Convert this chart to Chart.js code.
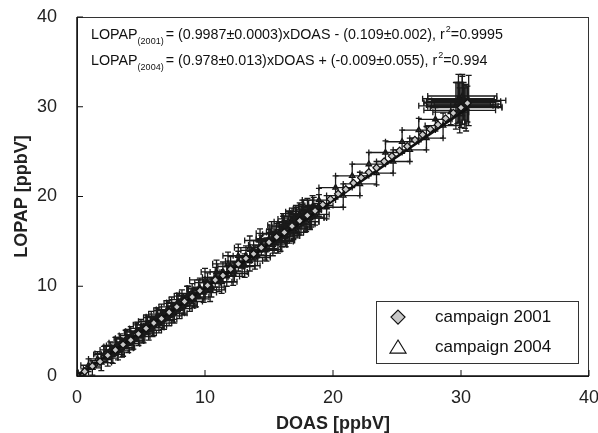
<!DOCTYPE html>
<html>
<head>
<meta charset="utf-8">
<script src="https://cdn.jsdelivr.net/npm/chart.js@4"></script>
<style>
  html, body { margin: 0; padding: 0; background: #fff; }
  #wrap { width: 598px; height: 433px; }
</style>
</head>
<body>
<div id="wrap"><canvas id="chart"></canvas></div>
<script>
// campaign 2001 (grey diamonds, very tight along the 1:1 line)
const doas2001 = [0, 0.6, 1.2, 1.8, 2.4, 3.0, 3.6, 4.2, 4.8, 5.4, 6.0, 6.6, 7.2, 7.8, 8.4, 9.0, 9.6, 10.2, 10.8, 11.4,
  12.0, 12.6, 13.2, 13.8, 14.4, 15.0, 15.6, 16.2, 16.8, 17.4, 18.0, 18.6, 19.2, 19.8, 20.4, 21.0, 21.6, 22.2, 22.8, 23.4,
  24.0, 24.6, 25.2, 25.8, 26.4, 27.0, 27.6, 28.2, 28.8, 29.4, 30.0, 30.5];
const lopap2001 = [0, 0.5, 1.1, 1.6, 2.3, 2.9, 3.5, 4.0, 4.7, 5.3, 5.9, 6.4, 7.1, 7.7, 8.3, 8.8, 9.5, 10.1, 10.7, 11.2,
  11.9, 12.5, 13.1, 13.6, 14.3, 14.9, 15.5, 16.0, 16.7, 17.3, 17.9, 18.4, 19.1, 19.7, 20.3, 20.8, 21.5, 22.1, 22.7, 23.2,
  23.9, 24.5, 25.1, 25.6, 26.3, 26.9, 27.5, 28.0, 28.7, 29.3, 29.9, 30.4];

// campaign 2004 (triangles with error bars)
const doas2004 = [0.5, 0.9, 1.2, 1.6, 1.9, 2.1, 2.4, 2.6, 2.8, 3.0, 3.2, 3.4, 3.6, 3.8, 4.0, 4.2, 4.4, 4.6, 4.8, 5.0,
  5.2, 5.4, 5.6, 5.8, 6.0, 6.2, 6.4, 6.6, 6.8, 7.0, 7.2, 7.4, 7.6, 7.8, 8.0, 8.2, 8.4, 8.6, 8.8, 9.0,
  9.3, 9.6, 9.9, 10.2, 10.5, 10.8, 11.1, 11.4, 11.7, 12.0, 12.3, 12.6, 12.9, 13.2, 13.5, 13.8, 14.1, 14.4, 14.7, 15.0,
  15.3, 15.6, 15.9, 16.1, 16.3, 16.5, 16.6, 16.8, 16.9, 17.1, 17.2, 17.4, 17.5, 17.7, 17.8, 18.0, 18.2, 18.4, 18.6, 18.9,
  2.2, 2.7, 3.1, 3.5, 3.9, 4.3, 4.7, 5.1, 5.5, 5.9, 6.3, 6.7, 7.1, 7.5, 7.9, 8.3, 8.7, 9.1, 9.5, 10.0,
  15.0, 15.4, 15.8, 16.0, 16.2, 16.4, 16.7, 16.9, 17.1, 17.3, 17.6, 17.9, 18.1, 18.3, 18.5,
  15.4, 16.2, 17.0, 17.6, 18.2, 18.9, 19.5, 20.2, 20.8, 21.5, 22.1, 22.8, 23.4, 24.1, 24.7, 25.4, 26.0, 26.7, 27.3, 28.0,
  28.6, 29.2, 29.6, 29.9, 30.1, 30.3, 30.5, 29.8, 30.0, 30.2, 30.4, 29.7, 30.6, 30.1, 29.9, 30.3,
  10.0, 10.4, 10.9, 11.3, 11.8, 12.2, 12.6, 13.1, 13.5, 13.9, 14.3, 14.8, 15.2, 15.7, 16.1];
const lopap2004 = [0.4, 1.2, 0.9, 1.9, 1.5, 2.4, 2.0, 2.9, 2.4, 3.3, 2.8, 3.7, 3.2, 4.1, 3.6, 4.5, 4.0, 4.9, 4.4, 5.3,
  4.8, 5.7, 5.1, 6.1, 5.6, 6.5, 5.9, 6.9, 6.3, 7.3, 6.7, 7.7, 7.0, 8.1, 7.5, 8.5, 7.9, 8.9, 8.3, 9.2,
  8.8, 9.8, 9.3, 10.4, 9.9, 11.0, 10.5, 11.6, 11.1, 12.2, 11.6, 12.8, 12.2, 13.4, 12.8, 14.0, 13.4, 14.6, 14.0, 15.2,
  14.6, 15.8, 15.1, 16.6, 15.6, 17.2, 16.0, 17.5, 16.4, 17.8, 16.6, 18.1, 16.9, 18.4, 17.2, 18.6, 17.6, 18.9, 18.0, 19.0,
  2.5, 2.4, 3.4, 3.1, 4.2, 3.9, 5.0, 4.7, 5.7, 5.4, 6.6, 6.2, 7.4, 7.0, 8.2, 7.8, 9.0, 8.6, 9.7, 9.6,
  15.3, 14.8, 16.0, 15.5, 16.7, 15.9, 17.1, 16.4, 17.7, 16.8, 18.0, 17.2, 18.5, 17.7, 18.8,
  15.3, 16.1, 16.9, 18.3, 17.6, 19.6, 18.8, 21.0, 20.1, 22.3, 21.4, 23.6, 22.6, 24.9, 23.9, 26.1, 25.2, 27.4, 26.5, 28.6,
  27.9, 29.4, 30.1, 30.5, 30.8, 30.0, 30.3, 30.9, 30.2, 30.6, 29.9, 30.4, 30.7, 31.2, 29.6, 30.1,
  10.7, 9.6, 11.6, 10.5, 12.5, 11.4, 13.4, 12.3, 14.3, 13.2, 15.1, 14.1, 15.9, 15.0, 16.8];
const errX2004 = [0.4, 0.6, 0.7, 0.7, 0.8, 0.8, 0.8, 0.8, 0.9, 0.9, 0.9, 0.9, 0.9, 0.9, 0.9, 0.9, 0.9, 0.9, 0.9, 0.9,
  1.0, 1.0, 1.0, 1.0, 1.0, 1.0, 1.0, 1.0, 1.0, 1.0, 1.0, 1.0, 1.0, 1.0, 1.0, 1.0, 1.0, 1.0, 1.0, 1.0,
  1.0, 1.0, 1.0, 1.0, 1.0, 1.0, 1.0, 1.0, 1.0, 1.0, 1.0, 1.0, 1.0, 1.0, 1.0, 1.0, 1.0, 1.0, 1.0, 1.0,
  1.1, 1.1, 1.1, 1.1, 1.1, 1.1, 1.1, 1.1, 1.1, 1.1, 1.1, 1.1, 1.1, 1.1, 1.1, 1.1, 1.1, 1.1, 1.1, 1.1,
  0.8, 0.8, 0.8, 0.9, 0.9, 0.9, 0.9, 0.9, 0.9, 0.9, 0.9, 0.9, 0.9, 0.9, 0.9, 0.9, 0.9, 0.9, 0.9, 0.9,
  1.0, 1.0, 1.0, 1.0, 1.0, 1.0, 1.0, 1.0, 1.0, 1.0, 1.0, 1.0, 1.0, 1.0, 1.0,
  1.1, 1.1, 1.2, 1.3, 1.3, 1.3, 1.3, 1.3, 1.3, 1.3, 1.3, 1.3, 1.3, 1.3, 1.3, 1.3, 1.3, 1.3, 1.3, 1.3,
  1.4, 1.4, 2.9, 2.8, 2.7, 2.9, 2.6, 2.8, 2.7, 2.9, 2.8, 2.6, 2.9, 2.7, 2.8, 2.6,
  1.2, 1.2, 1.2, 1.2, 1.2, 1.2, 1.2, 1.2, 1.2, 1.2, 1.2, 1.2, 1.2, 1.2, 1.2];
const errY2004 = [0.4, 0.7, 0.8, 0.8, 0.9, 0.9, 0.9, 0.9, 1.0, 1.0, 1.0, 1.0, 1.0, 1.0, 1.0, 1.0, 1.0, 1.0, 1.0, 1.0,
  1.1, 1.1, 1.1, 1.1, 1.1, 1.1, 1.1, 1.1, 1.1, 1.1, 1.1, 1.1, 1.1, 1.1, 1.1, 1.1, 1.1, 1.1, 1.1, 1.1,
  1.1, 1.1, 1.1, 1.1, 1.1, 1.1, 1.1, 1.1, 1.1, 1.1, 1.1, 1.1, 1.1, 1.1, 1.1, 1.1, 1.1, 1.1, 1.1, 1.1,
  1.2, 1.2, 1.2, 1.2, 1.2, 1.2, 1.2, 1.2, 1.2, 1.2, 1.2, 1.2, 1.2, 1.2, 1.2, 1.2, 1.2, 1.2, 1.2, 1.2,
  0.9, 0.9, 0.9, 1.0, 1.0, 1.0, 1.0, 1.0, 1.0, 1.0, 1.0, 1.0, 1.0, 1.0, 1.0, 1.0, 1.0, 1.0, 1.0, 1.0,
  1.1, 1.1, 1.1, 1.1, 1.1, 1.1, 1.1, 1.1, 1.1, 1.1, 1.1, 1.1, 1.1, 1.1, 1.1,
  1.1, 1.2, 1.2, 1.3, 1.3, 1.3, 1.3, 1.3, 1.3, 1.3, 1.3, 1.3, 1.3, 1.3, 1.3, 1.3, 1.3, 1.3, 1.3, 1.3,
  1.4, 1.4, 2.6, 2.2, 2.8, 2.4, 2.0, 2.7, 2.5, 2.1, 2.6, 2.3, 2.8, 2.2, 2.5, 2.0,
  1.3, 1.3, 1.3, 1.3, 1.3, 1.3, 1.3, 1.3, 1.3, 1.3, 1.3, 1.3, 1.3, 1.3, 1.3];

// regression line of campaign 2004 (end points)
const fitX = [0, 30.5];
const fitY = [-0.01, 29.82];

const tickValues = [0, 10, 20, 30, 40];
const legendLabels = ['campaign 2001', 'campaign 2004'];

const toPoints = (xs, ys) => xs.map((x, i) => ({ x: x, y: ys[i] }));
const FONT = '"Liberation Sans", Arial, sans-serif';

// error bars are drawn right after their own scatter dataset
const errorBars = {
  id: 'errorBars',
  afterDatasetDraw(chart, args) {
    const ds = chart.data.datasets[args.index];
    if (!ds.errX) return;
    const ctx = chart.ctx;
    const xs = chart.scales.x, ys = chart.scales.y;
    ctx.save();
    ctx.strokeStyle = '#1a1a1a';
    ctx.lineWidth = 1.3;
    ds.data.forEach((p, i) => {
      const cx = xs.getPixelForValue(p.x), cy = ys.getPixelForValue(p.y);
      const x0 = xs.getPixelForValue(p.x - ds.errX[i]), x1 = xs.getPixelForValue(p.x + ds.errX[i]);
      const y0 = ys.getPixelForValue(p.y - ds.errY[i]), y1 = ys.getPixelForValue(p.y + ds.errY[i]);
      ctx.beginPath();
      ctx.moveTo(x0, cy); ctx.lineTo(x1, cy);
      ctx.moveTo(x0, cy - 3); ctx.lineTo(x0, cy + 3);
      ctx.moveTo(x1, cy - 3); ctx.lineTo(x1, cy + 3);
      ctx.moveTo(cx, y0); ctx.lineTo(cx, y1);
      ctx.moveTo(cx - 3, y0); ctx.lineTo(cx + 3, y0);
      ctx.moveTo(cx - 3, y1); ctx.lineTo(cx + 3, y1);
      ctx.stroke();
    });
    ctx.restore();
  }
};

const frameAndText = {
  id: 'frameAndText',
  afterDraw(chart) {
    const ctx = chart.ctx;
    const a = chart.chartArea;
    const xs = chart.scales.x, ys = chart.scales.y;
    ctx.save();
    // frame
    ctx.strokeStyle = '#333';
    ctx.lineWidth = 1;
    ctx.strokeRect(a.left + 0.5, a.top + 0.5, a.right - a.left - 1, a.bottom - a.top);
    ctx.strokeStyle = '#111';
    ctx.lineWidth = 1.5;
    ctx.beginPath();
    ctx.moveTo(a.left, a.top); ctx.lineTo(a.left, a.bottom); ctx.lineTo(a.right, a.bottom);
    ctx.stroke();
    // inward ticks
    ctx.lineWidth = 1;
    tickValues.forEach(v => {
      const px = xs.getPixelForValue(v), py = ys.getPixelForValue(v);
      ctx.beginPath();
      ctx.moveTo(px, a.bottom); ctx.lineTo(px, a.bottom - 6);
      ctx.moveTo(a.left, py); ctx.lineTo(a.left + 6, py);
      ctx.stroke();
    });

    // equations
    ctx.fillStyle = '#111';
    ctx.textBaseline = 'alphabetic';
    const eq = (y, year, rest1, r2) => {
      let x = 91;
      ctx.font = '14.3px ' + FONT;
      ctx.fillText('LOPAP', x, y); x += ctx.measureText('LOPAP').width;
      ctx.font = '9px ' + FONT;
      ctx.fillText('(' + year + ')', x, y + 5); x += ctx.measureText('(' + year + ')').width + 2;
      ctx.font = '14.3px ' + FONT;
      ctx.fillText(rest1, x, y); x += ctx.measureText(rest1).width;
      ctx.font = '9px ' + FONT;
      ctx.fillText('2', x + 1, y - 7); x += ctx.measureText('2').width + 1;
      ctx.font = '14.3px ' + FONT;
      ctx.fillText('=' + r2, x, y);
    };
    eq(39, '2001', '= (0.9987\u00b10.0003)xDOAS - (0.109\u00b10.002), r', '0.9995');
    eq(65, '2004', '= (0.978\u00b10.013)xDOAS + (-0.009\u00b10.055), r', '0.994');

    // legend box
    const lx = xs.getPixelForValue(23.36), rx = xs.getPixelForValue(39.14);
    const ty = ys.getPixelForValue(8.35), by = ys.getPixelForValue(1.45);
    ctx.strokeStyle = '#333';
    ctx.lineWidth = 1;
    ctx.strokeRect(Math.round(lx) + 0.5, Math.round(ty) + 0.5, Math.round(rx - lx), Math.round(by - ty));
    const rowY = [ty + 16, ty + 46];
    const mx = lx + 22;
    // diamond
    ctx.beginPath();
    ctx.moveTo(mx, rowY[0] - 7); ctx.lineTo(mx + 7, rowY[0]); ctx.lineTo(mx, rowY[0] + 7); ctx.lineTo(mx - 7, rowY[0]); ctx.closePath();
    ctx.fillStyle = '#c8c8c8'; ctx.fill();
    ctx.strokeStyle = '#111'; ctx.lineWidth = 1.2; ctx.stroke();
    // triangle
    ctx.beginPath();
    ctx.moveTo(mx, rowY[1] - 7); ctx.lineTo(mx + 8, rowY[1] + 6); ctx.lineTo(mx - 8, rowY[1] + 6); ctx.closePath();
    ctx.fillStyle = '#fff'; ctx.fill(); ctx.stroke();
    ctx.fillStyle = '#111';
    ctx.font = '17px ' + FONT;
    ctx.textBaseline = 'middle';
    ctx.fillText(legendLabels[0], lx + 59, rowY[0]);
    ctx.fillText(legendLabels[1], lx + 59, rowY[1]);
    ctx.restore();
  }
};

new Chart(document.getElementById('chart'), {
  type: 'scatter',
  data: {
    datasets: [
      {
        label: legendLabels[1],
        data: toPoints(doas2004, lopap2004),
        errX: errX2004, errY: errY2004,
        order: 3,
        pointStyle: 'triangle',
        pointRadius: 3,
        backgroundColor: '#ffffff',
        borderColor: '#111',
        borderWidth: 1.4
      },
      {
        type: 'line',
        label: 'fit 2004',
        data: toPoints(fitX, fitY),
        order: 2,
        borderColor: '#111',
        borderWidth: 2.5,
        pointRadius: 0,
        fill: false
      },
      {
        label: legendLabels[0],
        data: toPoints(doas2001, lopap2001),
        order: 1,
        pointStyle: 'rectRot',
        pointRadius: 3.6,
        backgroundColor: '#c8c8c8',
        borderColor: '#111',
        borderWidth: 1.2
      }
    ]
  },
  options: {
    responsive: true,
    maintainAspectRatio: false,
    animation: false,
    layout: { padding: { top: 17, right: 9, left: 0, bottom: 0 } },
    plugins: {
      legend: { display: false },
      tooltip: { enabled: false }
    },
    scales: {
      x: {
        type: 'linear',
        min: 0, max: 40,
        afterBuildTicks: s => { s.ticks = tickValues.map(v => ({ value: v })); },
        afterFit: s => { s.height = 57; s.paddingLeft = 0; s.paddingRight = 0; },
        grid: { display: false },
        border: { display: false },
        ticks: {
          color: '#222',
          padding: 3,
          font: { family: FONT, size: 18 }
        },
        title: {
          display: true,
          text: 'DOAS [ppbV]',
          color: '#222',
          padding: { top: 0, bottom: 0 },
          font: { family: FONT, size: 18, weight: 'bold', lineHeight: 1 }
        }
      },
      y: {
        type: 'linear',
        min: 0, max: 40,
        afterBuildTicks: s => { s.ticks = tickValues.map(v => ({ value: v })); },
        afterFit: s => { s.width = 77; s.paddingTop = 0; s.paddingBottom = 0; },
        grid: { display: false },
        border: { display: false },
        ticks: {
          color: '#222',
          padding: 12,
          font: { family: FONT, size: 18 }
        },
        title: {
          display: true,
          text: 'LOPAP [ppbV]',
          color: '#222',
          padding: { top: 13, bottom: 0 },
          font: { family: FONT, size: 18, weight: 'bold', lineHeight: 1 }
        }
      }
    }
  },
  plugins: [errorBars, frameAndText]
});
</script>
</body>
</html>
